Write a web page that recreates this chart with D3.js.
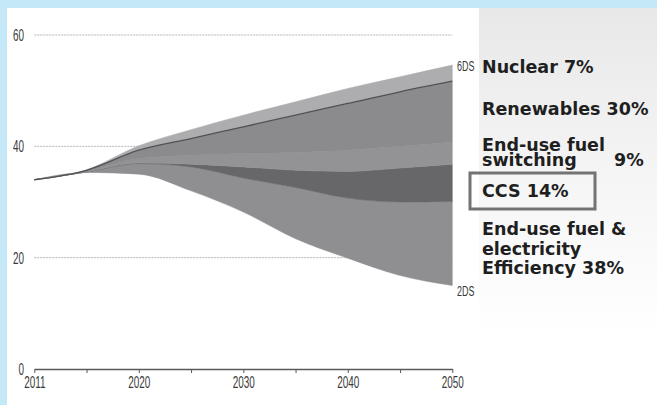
<!DOCTYPE html>
<html>
<head>
<meta charset="utf-8">
<script src="https://cdn.jsdelivr.net/npm/d3@7"></script>
<style>
  html, body { margin: 0; padding: 0; background: #ffffff; }
  svg { display: block; }
</style>
</head>
<body>
<svg id="chart" width="657" height="405"></svg>
<script>
// ---- data ----
const years = ["2011", "2015", "2020", "2025", "2030", "2035", "2040", "2045", "2050"];
const yearLabels = ["2011", "2020", "2030", "2040", "2050"];
const yTicks = [0, 20, 40, 60];
// 2DS emission pathway (bottom edge of the wedges), Gt CO2
const twoDS = [34.0, 35.3, 35.0, 32.0, 28.2, 23.4, 19.9, 16.8, 15.0];
// reduction wedges, stacked from 2DS up to 6DS
const efficiency    = [0, 0.1, 1.9, 4.3, 6.1, 9.2, 10.8, 13.2, 15.1];
const ccs           = [0, 0.0, 0.1, 0.5, 2.0, 3.1, 4.8, 6.1, 6.7];
const fuelSwitching = [0, 0.1, 0.8, 1.6, 2.4, 3.2, 3.8, 3.9, 4.0];
const renewables    = [0, 0.2, 1.5, 3.0, 4.8, 6.7, 8.4, 9.8, 10.9];
const nuclear       = [0, 0.1, 0.8, 1.6, 2.1, 2.4, 2.7, 2.7, 2.9];
const scenarioLabels = ["6DS", "2DS"];
const legendLines = [
  ["Nuclear 7%"],
  ["Renewables 30%"],
  ["End-use fuel", "switching"],
  ["CCS 14%"],
  ["End-use fuel &", "electricity", "Efficiency 38%"]
];

const keys = ["base", "efficiency", "ccs", "fuelSwitching", "renewables", "nuclear"];
const table = years.map((y, i) => ({
  year: y, base: twoDS[i], efficiency: efficiency[i], ccs: ccs[i],
  fuelSwitching: fuelSwitching[i], renewables: renewables[i], nuclear: nuclear[i]
}));
const colors = {
  efficiency: "#8f8f92", ccs: "#67676a", fuelSwitching: "#939396",
  renewables: "#8b8b8e", nuclear: "#adadaf"
};

const svg = d3.select("#chart");

// ---- background frame ----
const defs = svg.append("defs");
const grad = defs.append("linearGradient").attr("id", "panel").attr("x1", 0).attr("y1", 0).attr("x2", 0).attr("y2", 1);
grad.append("stop").attr("offset", "0%").attr("stop-color", "#e8e8e8");
grad.append("stop").attr("offset", "55%").attr("stop-color", "#f6f6f6");
grad.append("stop").attr("offset", "100%").attr("stop-color", "#ffffff");
svg.append("rect").attr("x", 479).attr("y", 8).attr("width", 178).attr("height", 330).attr("fill", "url(#panel)");
svg.append("rect").attr("x", 0).attr("y", 0).attr("width", 657).attr("height", 8).attr("fill", "#c5e8f8");
svg.append("rect").attr("x", 0).attr("y", 0).attr("width", 7).attr("height", 405).attr("fill", "#c5e8f8");

// ---- scales ----
const x = d3.scalePoint().domain(years).range([34.3, 452.3]);
const y = d3.scaleLinear().domain([0, 60]).range([369, 35]);

// gridlines
svg.append("g").selectAll("line").data(yTicks.filter(d => d > 0)).join("line")
  .attr("x1", x("2011")).attr("x2", x("2050"))
  .attr("y1", d => y(d)).attr("y2", d => y(d))
  .attr("stroke", "#b5b5b5").attr("stroke-width", 1).attr("stroke-dasharray", "2,1");

// ---- stacked wedges ----
const series = d3.stack().keys(keys)(table);
const area = d3.area()
  .x(d => x(d.data.year))
  .y0(d => y(d[0])).y1(d => y(d[1]))
  .curve(d3.curveMonotoneX);
svg.append("g").selectAll("path").data(series.filter(s => s.key !== "base")).join("path")
  .attr("d", area)
  .attr("fill", s => colors[s.key])
  .attr("stroke", s => colors[s.key]).attr("stroke-width", 0.5);

// dark edge along top of renewables
const renSeries = series.find(s => s.key === "renewables");
svg.append("path").datum(renSeries)
  .attr("d", d3.line().x(d => x(d.data.year)).y(d => y(d[1])).curve(d3.curveMonotoneX))
  .attr("fill", "none").attr("stroke", "#505052").attr("stroke-width", 1.3);

// ---- axes ----
const xAxis = d3.axisBottom(x).tickSize(4).tickSizeOuter(0)
  .tickFormat(d => yearLabels.includes(d) ? d : "");
const gx = svg.append("g").attr("transform", `translate(0,${y(0)})`).call(xAxis);
gx.select(".domain").attr("stroke", "#5a5a5a").attr("stroke-width", 1.6);
gx.selectAll(".tick line").attr("stroke", "#5a5a5a").attr("stroke-width", 1);
gx.selectAll(".tick text")
  .attr("y", 0).attr("dy", 0)
  .attr("transform", "translate(0,19) scale(0.62,1)")
  .attr("font-family", "Liberation Sans, Arial, sans-serif").attr("font-size", 16)
  .attr("fill", "#3a3a3a");

const yAxis = d3.axisLeft(y).tickValues(yTicks).tickSize(0);
const gy = svg.append("g").attr("transform", "translate(24,0)").call(yAxis);
gy.select(".domain").remove();
gy.selectAll(".tick text")
  .attr("x", 0).attr("dy", 0)
  .attr("transform", "translate(0,5.5) scale(0.62,1)")
  .attr("font-family", "Liberation Sans, Arial, sans-serif").attr("font-size", 16)
  .attr("fill", "#3a3a3a");

// scenario labels
const lastTop = series[series.length - 1][years.length - 1][1];
const lastBottom = twoDS[twoDS.length - 1];
const scen = svg.append("g");
scen.append("text").text(scenarioLabels[0])
  .attr("transform", `translate(457,${y(lastTop) + 6}) scale(0.6,1)`);
scen.append("text").text(scenarioLabels[1])
  .attr("transform", `translate(457,${y(lastBottom) + 10}) scale(0.6,1)`);
scen.selectAll("text").attr("font-family", "Liberation Sans, Arial, sans-serif")
  .attr("font-size", 15).attr("fill", "#3a3a3a");

// ---- legend texts ----
const legendBaselines = [[72.5], [115], [150.5, 165.5], [197], [235, 254.5, 273.5]];
const lg = svg.append("g").attr("font-family", "DejaVu Sans, sans-serif")
  .attr("font-weight", "bold").attr("font-size", 17.5).attr("fill", "#1f1f1f");
legendLines.forEach((lines, i) => {
  lines.forEach((t, j) => {
    lg.append("text").attr("x", 482).attr("y", legendBaselines[i][j]).text(t);
  });
});
lg.append("text").attr("x", 614).attr("y", 165.5).text("9%");

// CCS box
svg.append("rect").attr("x", 470).attr("y", 173).attr("width", 125).attr("height", 36)
  .attr("fill", "none").attr("stroke", "#737373").attr("stroke-width", 3);
</script>
</body>
</html>
